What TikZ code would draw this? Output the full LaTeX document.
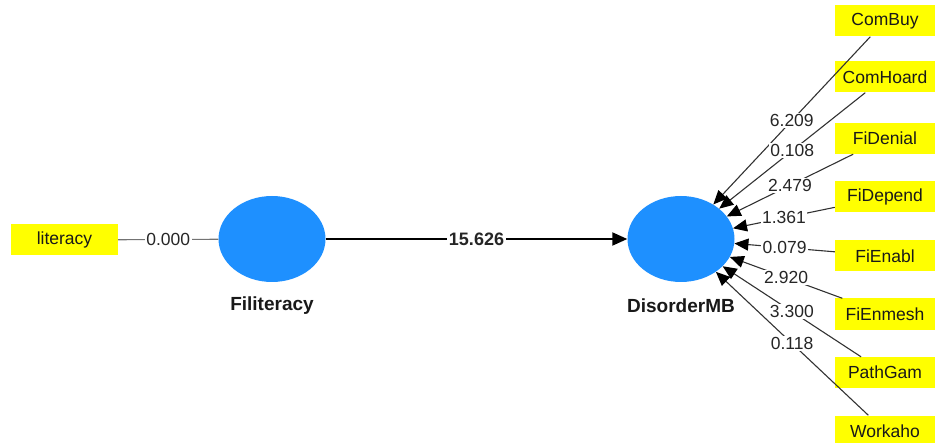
\documentclass[tikz,border=0pt]{standalone}
\usepackage{fontspec}
\setmainfont{Liberation Sans}
\usetikzlibrary{arrows.meta,shapes.geometric}
\definecolor{latent}{RGB}{30,144,255}
\definecolor{indbox}{RGB}{255,255,0}
\definecolor{edge}{RGB}{50,50,50}

\begin{document}
\begin{tikzpicture}[x=1pt,y=-1pt,
  ind/.style={fill=indbox,minimum width=100pt,minimum height=31pt,inner sep=0pt,
    font=\fontsize{17.5}{19}\selectfont,text=black!90},
  lv/.style={ellipse,fill=latent,minimum width=107pt,minimum height=86pt,inner sep=0pt},
  lvname/.style={font=\bfseries\fontsize{19}{21}\selectfont,text=black!90},
  coef/.style={fill=white,inner sep=1.5pt,font=\fontsize{17.5}{19}\selectfont,text=black!85},
  load/.style={draw=edge,line width=1.1pt,-{Triangle[length=14pt,width=12pt,color=black]}},
]
\useasboundingbox (0,0) rectangle (936,443);
\clip (0,0) rectangle (936,443);

% latent variables
\node[lv] (fil) at (272,239) {};
\node[lv] (dis) at (681,239) {};
\node[lvname] (filname) at (272,306) {Filiteracy};
\node[lvname] (disname) at (681,306) {DisorderMB};

% indicator of Filiteracy
\node[ind,minimum width=107pt] (lit) at (64.5,240) {literacy};
\draw[draw=black!55,line width=1.1pt] (lit) -- node[coef] {0.000} (fil);

% structural path
\draw[line width=2pt,-{Triangle[length=15pt,width=13pt]}] (fil) --
  node[coef,font=\bfseries\fontsize{18}{19}\selectfont] {15.626} (dis);

% indicators of DisorderMB
\node[ind] (i1) at (885,21)    {ComBuy};
\node[ind] (i2) at (885,77)    {ComHoard};
\node[ind] (i3) at (885,138.5) {FiDenial};
\node[ind] (i4) at (885,197)   {FiDepend};
\node[ind] (i5) at (885,256)   {FiEnabl};
\node[ind] (i6) at (885,314)   {FiEnmesh};
\node[ind] (i7) at (885,372.5) {PathGam};
\node[ind] (i8) at (885,431)   {Workaho};

\draw[load] (i1) -- node[coef] {6.209} (dis);
\draw[load] (i2) -- node[coef] {0.108} (dis);
\draw[load] (i3) -- node[coef] {2.479} (dis);
\draw[load] (i4) -- node[coef] {1.361} (dis);
\draw[load] (i5) -- node[coef] {0.079} (dis);
\draw[load] (i6) -- node[coef] {2.920} (dis);
\draw[load] (i7) -- node[coef] {3.300} (dis);
\draw[load] (i8) -- node[coef] {0.118} (dis);
\end{tikzpicture}
\end{document}
